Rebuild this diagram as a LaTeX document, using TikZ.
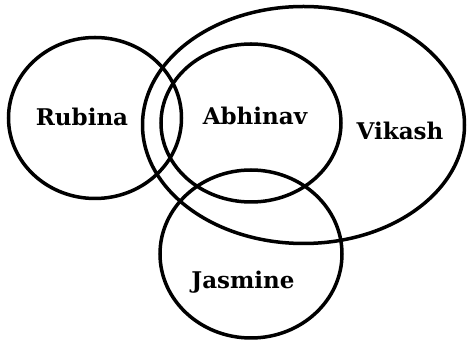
\documentclass[tikz,border=0pt]{standalone}
\usepackage{fontspec}
\setmainfont{DejaVu Serif}
\usepackage{tikz}
\usetikzlibrary{shapes.geometric}

\tikzset{
    venn/.style={draw, black, ellipse, line width=3.5pt, inner sep=0pt},
    vennlabel/.style={anchor=base, font=\bfseries\fontsize{23}{23}\selectfont}
}

\begin{document}
\begin{tikzpicture}[x=1pt, y=1pt]
            \useasboundingbox (0,0) rectangle (467,345); % page size
            \node[venn, minimum width=173pt, minimum height=161pt] (rubina) at (95,227) {}; % Rubina set
            \node[venn, minimum width=322pt, minimum height=237pt] (vikash) at (303.5,220) {}; % Vikash set
            \node[venn, minimum width=180pt, minimum height=158pt] (abhinav) at (251,222) {}; % Abhinav set
            \node[venn, minimum width=182pt, minimum height=168pt] (jasmine) at (251,91) {}; % Jasmine set
            \node[vennlabel] (rubinatext) at (82,219) {Rubina};
            \node[vennlabel] (abhinavtext) at (255,220) {Abhinav};
            \node[vennlabel] (vikashtext) at (400,205) {Vikash};
            \node[vennlabel] (jasminetext) at (243,56) {Jasmine};
        \end{tikzpicture}
\end{document}
